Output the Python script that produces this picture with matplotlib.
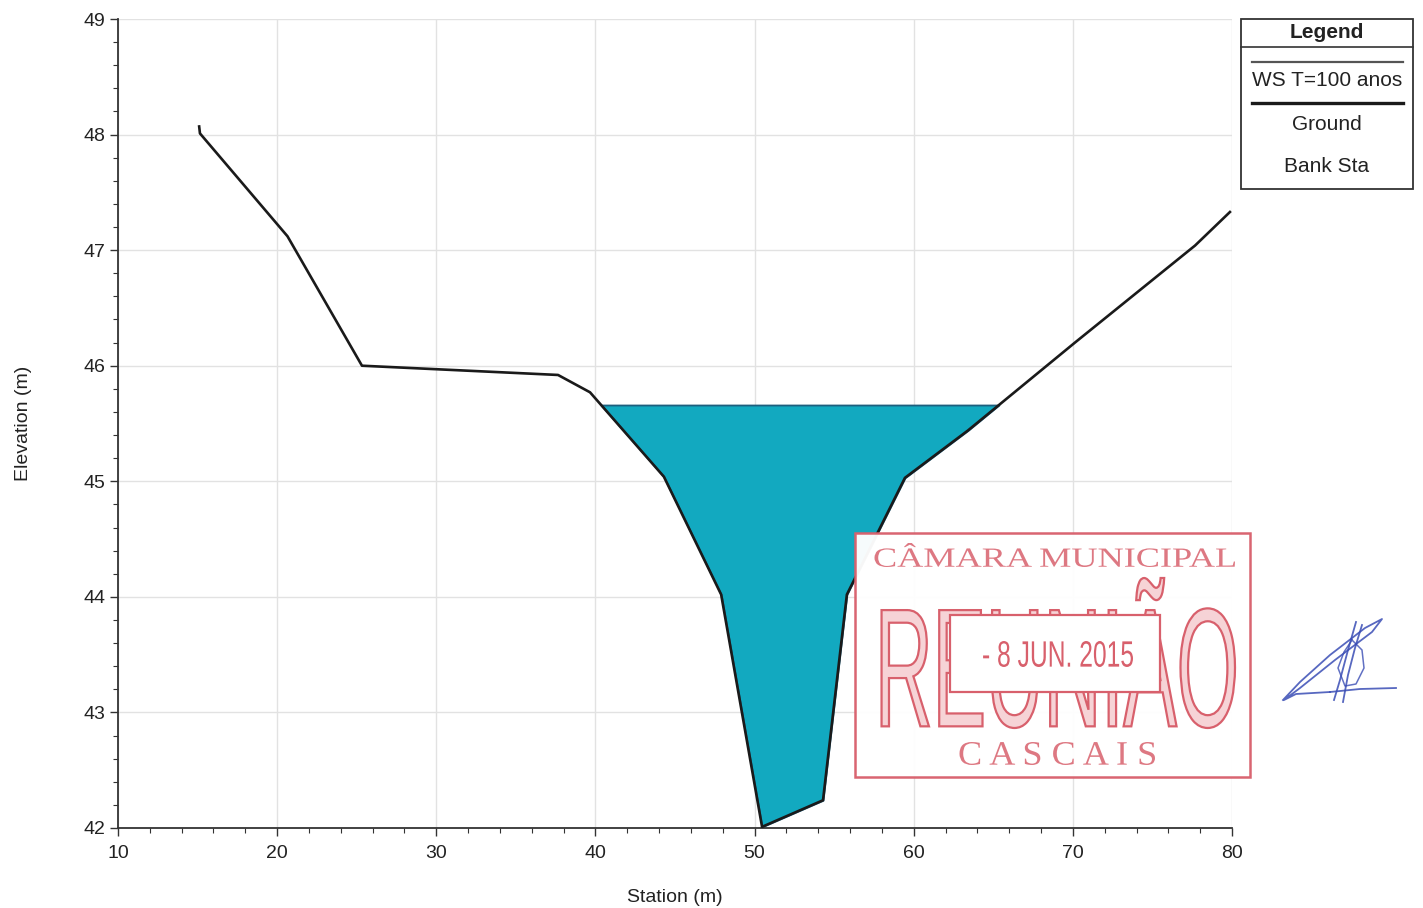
import numpy as np
import matplotlib
matplotlib.use("Agg")
import matplotlib.pyplot as plt
from matplotlib.ticker import MultipleLocator
from matplotlib.textpath import TextPath
from matplotlib.font_manager import FontProperties
from matplotlib.patches import PathPatch, Rectangle
from matplotlib.path import Path

#%% data read off the cross section
station = [15.10, 15.15, 20.65, 25.33, 37.65, 39.66, 44.30, 47.90, 50.47, 54.30,
           55.80, 59.45, 63.41, 70.13, 77.68, 79.87]
elevation = [48.07, 48.01, 47.12, 46.00, 45.92, 45.77, 45.04, 44.02, 42.01, 42.24,
             44.02, 45.03, 45.44, 46.20, 47.04, 47.33]
ws_elev = 45.66

legend_labels = ["WS T=100 anos", "Ground", "Bank Sta"]
stamp_lines = ["CÂMARA MUNICIPAL", "REUNIÃO", "- 8 JUN. 2015", "C A S C A I S"]

W, H = 1423, 908
plt.rcParams['font.family'] = ['Liberation Sans', 'DejaVu Sans']

fig = plt.figure(figsize=(W / 100, H / 100), dpi=100)
ax = fig.add_axes([118 / W, 1 - 828 / H, (1232 - 118) / W, (828 - 19) / H])

st = np.array(station)
el = np.array(elevation)

#%% water surface + ground
ax.fill_between(st, el, ws_elev, where=el < ws_elev, interpolate=True,
                facecolor='#12a9c0', edgecolor='#1d5f7e', linewidth=1.3, zorder=2)
ax.plot(st, el, color='#1a1a1a', linewidth=1.9, zorder=3)

ax.set_xlim(10, 80)
ax.set_ylim(42, 49)
ax.xaxis.set_major_locator(MultipleLocator(10))
ax.xaxis.set_minor_locator(MultipleLocator(2))
ax.yaxis.set_major_locator(MultipleLocator(1))
ax.yaxis.set_minor_locator(MultipleLocator(0.2))
ax.grid(True, which='major', color='#e2e2e2', linewidth=1.0, zorder=0)
ax.set_axisbelow(True)
for s in ['top', 'right']:
    ax.spines[s].set_visible(False)
for s in ['left', 'bottom']:
    ax.spines[s].set_color('#333333')
    ax.spines[s].set_linewidth(1.3)
ax.tick_params(which='major', length=6, width=1.0, color='#333333', labelsize=14,
               labelcolor='#222222', pad=3)
ax.tick_params(axis='x', which='major', pad=6)
ax.tick_params(which='minor', length=3.5, width=0.8, color='#333333')
ax.set_xlabel('Station (m)', fontsize=14, labelpad=20, color='#222222')
ax.set_ylabel('Elevation (m)', fontsize=14, labelpad=37, color='#222222')


#%% helpers working in image pixels (origin top-left)
def px_rect(x0, y0, x1, y1, **kw):
    r = Rectangle((x0 / W, 1 - y1 / H), (x1 - x0) / W, (y1 - y0) / H,
                  transform=fig.transFigure, **kw)
    fig.add_artist(r)
    return r


def px_line(xs, ys, **kw):
    fig.add_artist(plt.Line2D(np.array(xs) / W, 1 - np.array(ys) / H,
                              transform=fig.transFigure, **kw))


def fit_text(s, box, family='Liberation Serif', weight='normal', **kw):
    x0, y0, x1, y1 = box
    tp = TextPath((0, 0), s, size=50, prop=FontProperties(family=family, weight=weight))
    v = tp.vertices.copy()
    bx0, by0 = v.min(axis=0)
    bx1, by1 = v.max(axis=0)
    px = x0 + (v[:, 0] - bx0) / (bx1 - bx0) * (x1 - x0)
    py = y1 - (v[:, 1] - by0) / (by1 - by0) * (y1 - y0)
    p = Path(np.column_stack([px / W, 1 - py / H]), tp.codes)
    fig.add_artist(PathPatch(p, transform=fig.transFigure, **kw))


#%% legend box (outside the axes)
px_rect(1241, 19, 1413, 189, facecolor='white', edgecolor='#333333', linewidth=1.3)
px_line([1241, 1413], [47, 47], color='#333333', linewidth=1.2)
fig.text(1327 / W, 1 - 32 / H, 'Legend', ha='center', va='center', fontsize=15,
         fontweight='bold', color='#222222')
px_line([1252, 1403], [62, 62], color='#555555', linewidth=1.6)
px_line([1252, 1403], [103, 103], color='#1a1a1a', linewidth=2.4)
for lab, yy in zip(legend_labels, [81, 124, 166]):
    fig.text(1327 / W, 1 - yy / H, lab, ha='center', va='center', fontsize=15,
             color='#222222')

#%% stamp
red = '#d8606c'
px_rect(855, 533, 1250, 777, facecolor='white', edgecolor=red, linewidth=1.8,
        alpha=0.97, zorder=5)
fit_text(stamp_lines[0], (873, 543, 1235, 567), facecolor=red, edgecolor='none',
         alpha=0.85, zorder=6)
fit_text(stamp_lines[1], (875, 578, 1235, 728), family='Liberation Sans',
         facecolor='#f6d3d6', edgecolor=red, linewidth=1.6, zorder=6)
px_rect(950, 615, 1160, 692, facecolor='white', edgecolor=red, linewidth=1.6, zorder=7)
fit_text(stamp_lines[2], (982, 641, 1133, 667), family='Liberation Sans',
         facecolor=red, edgecolor='none', zorder=8)
fit_text(stamp_lines[3], (958, 742, 1155, 765), facecolor=red, edgecolor='none',
         alpha=0.85, zorder=6)

#%% signature
blue = '#3a4db5'
px_line([1283, 1300, 1330, 1365, 1382, 1372, 1335, 1300, 1284, 1296, 1330],
        [700, 682, 655, 628, 619, 632, 660, 688, 700, 694, 692],
        color=blue, linewidth=1.3, alpha=0.85)
px_line([1334, 1340, 1348, 1356], [700, 680, 650, 622], color=blue, linewidth=1.3, alpha=0.85)
px_line([1343, 1348, 1355, 1362], [702, 675, 648, 625], color=blue, linewidth=1.3, alpha=0.85)
px_line([1330, 1360, 1396], [692, 689, 688], color=blue, linewidth=1.3, alpha=0.85)
px_line([1352, 1362, 1364, 1356, 1345, 1338, 1344, 1352],
        [640, 650, 668, 684, 686, 668, 652, 640], color=blue, linewidth=1.1, alpha=0.8)

fig.savefig('out.png', dpi=100)
